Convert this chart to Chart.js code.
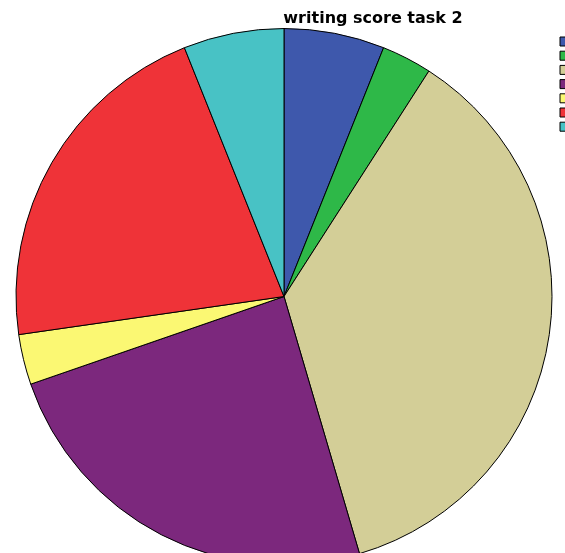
<!DOCTYPE html>
<html>
<head>
<meta charset="utf-8">
<script src="https://cdn.jsdelivr.net/npm/chart.js@4/dist/chart.umd.min.js"></script>
<style>
  html, body { margin: 0; padding: 0; overflow: hidden; background: #fff; }
  #wrap { position: relative; width: 740px; height: 565px; }
</style>
</head>
<body>
<div id="wrap"><canvas id="myChart"></canvas></div>
<script>
// writing score task 2 - counts per score band
const scores = ["4.0", "4.5", "5.0", "5.5", "6.0", "6.5", "7.0"];
const counts = [2, 1, 12, 8, 1, 7, 2];
const colors = ["#3E58AC", "#2EB848", "#D3CE97", "#7C287D", "#FBF873", "#EF3338", "#48C2C5"];

const data = {
  labels: scores,
  datasets: [
    {
      label: "writing score task 2",
      data: counts,
      backgroundColor: colors,
      borderColor: "#000",
      borderWidth: 1,
    },
  ],
};

new Chart("myChart", {
  type: "pie",
  data: data,
  options: {
    responsive: true,
    maintainAspectRatio: false,
    animation: false,
    // legend text sits past the right edge of the window, like the cropped original
    layout: { padding: { left: 13.2, right: 7.2, top: 0, bottom: 0 } },
    plugins: {
      title: {
        display: true,
        text: "writing score task 2",
        color: "#000",
        font: { family: "DejaVu Sans, sans-serif", size: 16, weight: "bold", lineHeight: 1 },
        padding: { top: 11, bottom: 1 },
      },
      legend: {
        position: "right",
        align: "start",
        fullSize: false,
        maxWidth: 178,
        // empty title only pushes the boxes down a little
        title: { display: true, text: " ", font: { size: 3.8, lineHeight: 1 }, padding: 0 },
        labels: {
          boxWidth: 170,
          boxHeight: 9,
          padding: 5.2,
          color: "#000",
          font: { family: "Liberation Sans, Arial, sans-serif", size: 9 },
        },
      },
      tooltip: { enabled: false },
    },
  },
});
</script>
</body>
</html>
